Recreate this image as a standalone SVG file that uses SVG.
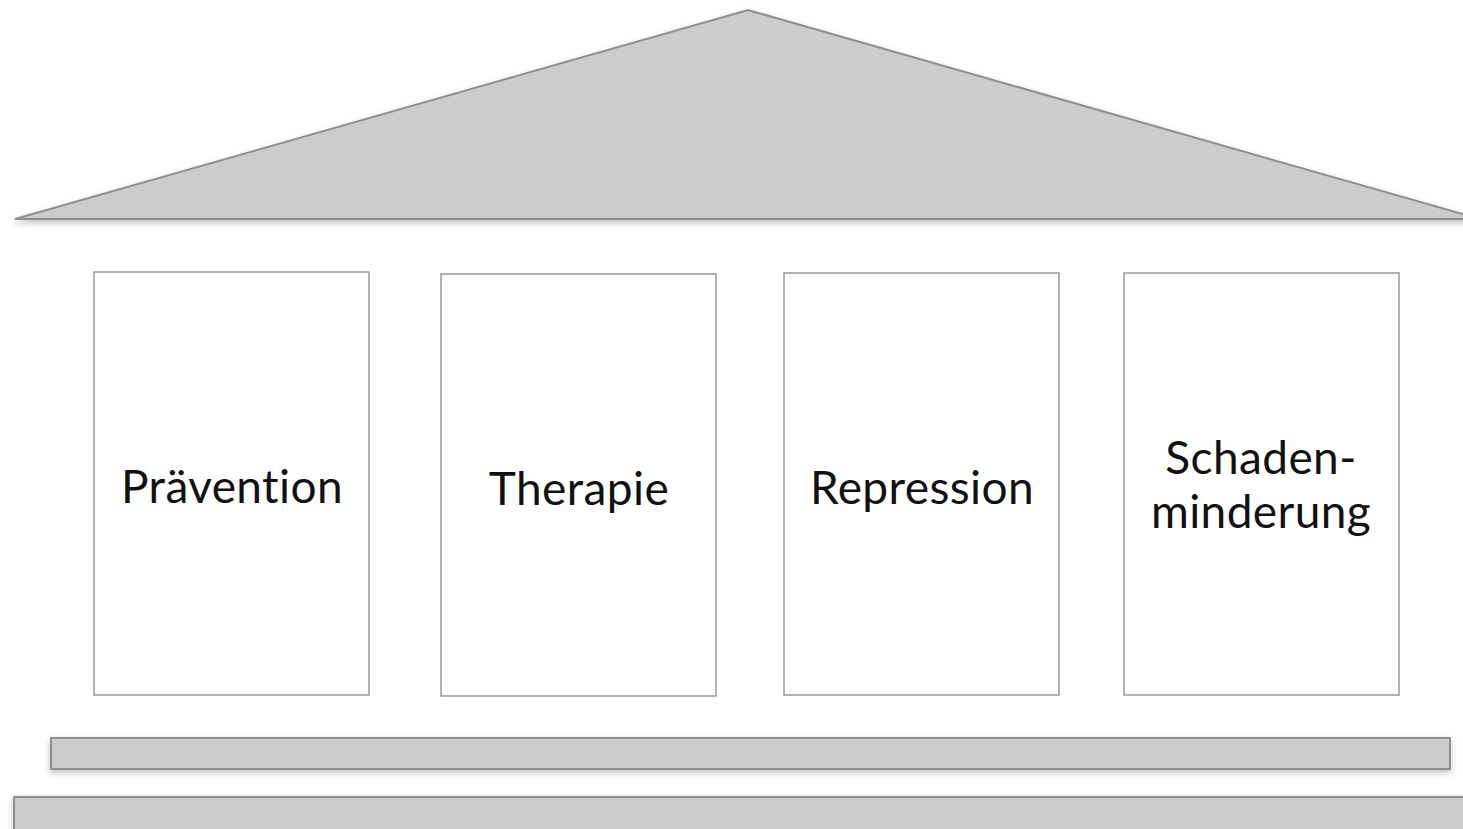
<svg xmlns="http://www.w3.org/2000/svg" width="1463" height="829" viewBox="0 0 1463 829">
<defs>
<filter id="sh" x="-5%" y="-20%" width="110%" height="160%">
<feDropShadow dx="0" dy="3" stdDeviation="3" flood-color="#000" flood-opacity="0.25"/>
</filter>
<style>
.slab{fill:#cccccc;stroke:#8f8f8f;stroke-width:2;filter:url(#sh)}
.col{fill:#ffffff;stroke:#999999;stroke-width:1.5}
.lbl{font-family:Lato,"Open Sans",sans-serif;font-size:46px;letter-spacing:0.4px;fill:#111;text-anchor:middle}
</style>
</defs>
<rect width="1463" height="829" fill="#ffffff"/>
<g id="roof"><polygon class="slab" points="15,219 748,10 1480,219"/></g>
<g id="praevention"><rect class="col" x="94" y="272" width="275" height="423"/><text class="lbl" x="232" y="503">Prävention</text></g>
<g id="therapie"><rect class="col" x="441" y="274" width="275" height="422"/><text class="lbl" x="579" y="505">Therapie</text></g>
<g id="repression"><rect class="col" x="784" y="273" width="275" height="422"/><text class="lbl" x="922" y="504">Repression</text></g>
<g id="schadenminderung"><rect class="col" x="1124" y="273" width="275" height="422"/><text class="lbl" x="1261" y="474">Schaden-</text><text class="lbl" x="1261" y="528">minderung</text></g>
<g id="step1"><rect class="slab" x="51" y="738" width="1399" height="31"/></g>
<g id="step2"><rect class="slab" x="14" y="797" width="1470" height="40"/></g>
<g id="connectors"></g>
</svg>
